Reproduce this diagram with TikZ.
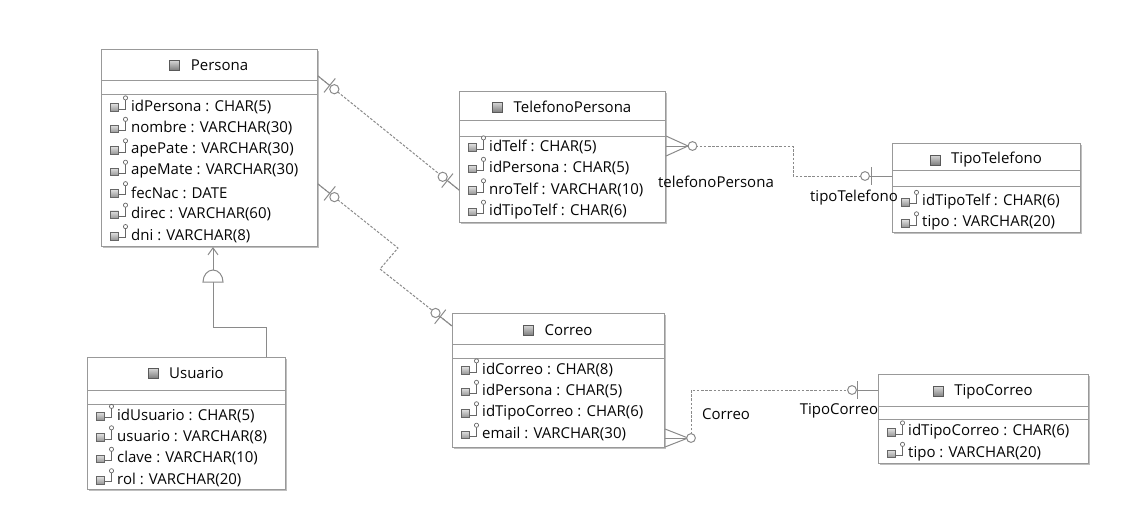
\documentclass[tikz,border=0pt]{standalone}
\usepackage{fontspec}
\setmainfont{Open Sans}
\usetikzlibrary{calc,arrows.meta,shadows}
\definecolor{boxline}{HTML}{999999}
\definecolor{connline}{HTML}{8A8A8A}
\definecolor{textc}{HTML}{050505}
\newcommand\ZeroOneEnd[4]{%
  \draw[solidc] (#1) -- ($(#1)!#3!(#2)$);
  \draw[solidc] ($(#1)!#3!(#2)!9pt!90:(#2)$) -- ($(#1)!#3!(#2)!9pt!-90:(#2)$);
  \draw[solidc, fill=white] ($(#1)!#4!(#2)$) circle (4.6pt);
}
\begin{document}
\begin{tikzpicture}[x=1pt,y=-1pt,
  font=\fontsize{15}{17}\selectfont,
  ebox/.style={draw=boxline, fill=white, line width=1pt, anchor=north west, inner sep=0pt,
    drop shadow={shadow xshift=1.3pt, shadow yshift=-1.3pt, opacity=0.25, fill=black}},
  sepline/.style={draw=boxline, line width=0.9pt},
  ttl/.style={inner sep=0pt, text=textc},
  attr/.style={inner sep=0pt, anchor=west, text=textc},
  lbl/.style={inner sep=0pt, text=textc},
  conn/.style={draw=connline, dash pattern=on 2.6pt off 1.6pt, line width=1pt},
  solidc/.style={draw=connline, line width=1pt},
  ticon/.pic={\draw[draw=black!65, top color=black!15, bottom color=black!50, line width=0.8pt] (-5,-5) rectangle (5,5);},
  aicon/.pic={
    \draw[draw=black!60, top color=black!12, bottom color=black!42, line width=0.6pt] (0,-3.8) rectangle (8.5,3.8);
    \draw[black!60, line width=0.8pt] (8.5,1.5) -- (15,1.5) -- (15,-7.5);
    \draw[black!60, fill=white, line width=0.7pt] (15.5,-9.6) circle (2.1pt);}
]
\useasboundingbox (0,0) rectangle (1131,525);

% ---------- Persona
\node[ebox, minimum width=216pt, minimum height=197pt] (persona) at (101,49) {};
\draw[sepline] (101,80) -- (317,80);
\draw[sepline] (101,94) -- (317,94);
\node[ttl] (personaT) at ($(persona.north)+(10,16)$) {Persona};
\pic at ($(personaT.west)+(-16,0)$) {ticon};
\foreach \t [count=\i from 0] in {idPersona : CHAR(5), nombre : VARCHAR(30), apePate : VARCHAR(30), apeMate : VARCHAR(30), fecNac : DATE, direc : VARCHAR(60), dni : VARCHAR(8)}{
  \pic at (110,107.5+21.45*\i) {aicon};
  \node[attr] (personaA\i) at (131,107+21.45*\i) {\t};
}

% ---------- TelefonoPersona
\node[ebox, minimum width=206pt, minimum height=131pt] (telefono) at (459,91) {};
\draw[sepline] (459,120) -- (665,120);
\draw[sepline] (459,136) -- (665,136);
\node[ttl] (telefonoT) at ($(telefono.north)+(10,16)$) {TelefonoPersona};
\pic at ($(telefonoT.west)+(-16,0)$) {ticon};
\foreach \t [count=\i from 0] in {idTelf : CHAR(5), idPersona : CHAR(5), nroTelf : VARCHAR(10), idTipoTelf : CHAR(6)}{
  \pic at (468,147.5+21.45*\i) {aicon};
  \node[attr] (telefonoA\i) at (489,147+21.45*\i) {\t};
}

% ---------- TipoTelefono
\node[ebox, minimum width=188pt, minimum height=89pt] (tipotel) at (892,143) {};
\draw[sepline] (892,170) -- (1080,170);
\draw[sepline] (892,186) -- (1080,186);
\node[ttl] (tipotelT) at ($(tipotel.north)+(10,17)$) {TipoTelefono};
\pic at ($(tipotelT.west)+(-16,0)$) {ticon};
\foreach \t [count=\i from 0] in {idTipoTelf : CHAR(6), tipo : VARCHAR(20)}{
  \pic at (901,202+21.45*\i) {aicon};
  \node[attr] (tipotelA\i) at (922,201.5+21.45*\i) {\t};
}

% ---------- Usuario
\node[ebox, minimum width=198pt, minimum height=132pt] (usuario) at (87,357) {};
\draw[sepline] (87,390) -- (285,390);
\draw[sepline] (87,404) -- (285,404);
\node[ttl] (usuarioT) at ($(usuario.north)+(10,16)$) {Usuario};
\pic at ($(usuarioT.west)+(-16,0)$) {ticon};
\foreach \t [count=\i from 0] in {idUsuario : CHAR(5), usuario : VARCHAR(8), clave : VARCHAR(10), rol : VARCHAR(20)}{
  \pic at (96,416+21.45*\i) {aicon};
  \node[attr] (usuarioA\i) at (117,415.5+21.45*\i) {\t};
}

% ---------- Correo
\node[ebox, minimum width=212pt, minimum height=134pt] (correo) at (452,313) {};
\draw[sepline] (452,344) -- (664,344);
\draw[sepline] (452,358) -- (664,358);
\node[ttl] (correoT) at ($(correo.north)+(10,17)$) {Correo};
\pic at ($(correoT.west)+(-16,0)$) {ticon};
\foreach \t [count=\i from 0] in {idCorreo : CHAR(8), idPersona : CHAR(5), idTipoCorreo : CHAR(6), email : VARCHAR(30)}{
  \pic at (461,370.5+21.45*\i) {aicon};
  \node[attr] (correoA\i) at (482,370+21.45*\i) {\t};
}

% ---------- TipoCorreo
\node[ebox, minimum width=210pt, minimum height=89pt] (tipocorreo) at (878,374) {};
\draw[sepline] (878,406) -- (1088,406);
\draw[sepline] (878,419) -- (1088,419);
\node[ttl] (tipocorreoT) at ($(tipocorreo.north)+(10,17.5)$) {TipoCorreo};
\pic at ($(tipocorreoT.west)+(-16,0)$) {ticon};
\foreach \t [count=\i from 0] in {idTipoCorreo : CHAR(6), tipo : VARCHAR(20)}{
  \pic at (887,432.5+21.45*\i) {aicon};
  \node[attr] (tipocorreoA\i) at (908,432+21.45*\i) {\t};
}

% ---------- Persona -- TelefonoPersona
\coordinate (c1a) at ($(persona.north east)+(0,27)$);
\coordinate (c1b) at ($(telefono.north west)+(0,99)$);
\draw[conn] (c1a) -- (c1b);
\ZeroOneEnd{c1a}{c1b}{15pt}{21pt}
\ZeroOneEnd{c1b}{c1a}{15pt}{21pt}

% ---------- Persona -- Correo
\coordinate (c2a) at ($(persona.north east)+(0,135)$);
\coordinate (c2k1) at (398,248);
\coordinate (c2k2) at (380,269);
\coordinate (c2b) at ($(correo.north west)+(0,13)$);
\draw[conn] (c2a) -- (c2k1) -- (c2k2) -- (c2b);
\ZeroOneEnd{c2a}{c2k1}{15pt}{21pt}
\ZeroOneEnd{c2b}{c2k2}{15pt}{21pt}

% ---------- TelefonoPersona -- TipoTelefono
\coordinate (c3a) at ($(telefono.north east)+(0,55)$);
\coordinate (c3k) at (793,146);
\coordinate (c3b) at ($(tipotel.north west)+(0,33)$);
\draw[conn] (c3a) -- (c3k) |- (c3b);
\draw[solidc] ($(c3a)+(0,-10)$) -- ($(c3a)+(22,0)$) -- ($(c3a)+(0,10)$);
\draw[solidc] (c3a) -- ($(c3a)+(22,0)$);
\draw[solidc, fill=white] ($(c3a)+(26.5,0)$) circle (4.4pt);
\draw[solidc] (c3b) -- ($(c3b)+(-22,0)$);
\draw[solidc] ($(c3b)+(-21,-9)$) -- ($(c3b)+(-21,9)$);
\draw[solidc, fill=white] ($(c3b)+(-27,0)$) circle (4.4pt);
\node[lbl] (lblTP) at (716,182) {telefonoPersona};
\node[lbl] (lblTT) at (854,198) {tipoTelefono};

% ---------- Correo -- TipoCorreo
\coordinate (c4a) at ($(correo.north east)+(0,125)$);
\coordinate (c4k) at (691,438);
\coordinate (c4b) at ($(tipocorreo.north west)+(0,16)$);
\draw[conn] (c4a) -- (c4k) |- (c4b);
\draw[solidc] ($(c4a)+(0,-9)$) -- ($(c4a)+(23,0)$) -- ($(c4a)+(0,9)$);
\draw[solidc] (c4a) -- ($(c4a)+(23,0)$);
\draw[solidc, fill=white] (c4k) circle (4.4pt);
\draw[solidc] (c4b) -- ($(c4b)+(-22,0)$);
\draw[solidc] ($(c4b)+(-21,-9)$) -- ($(c4b)+(-21,9)$);
\draw[solidc, fill=white] ($(c4b)+(-26,0)$) circle (4.4pt);
\node[lbl] (lblC) at (726,414) {Correo};
\node[lbl] (lblTC) at (839,411) {TipoCorreo};

% ---------- Usuario -> Persona (inheritance)
\coordinate (inhA) at ($(usuario.north west)+(179,0)$);
\coordinate (inhK) at (213,327);
\coordinate (domeB) at (213,282);
\coordinate (domeT) at (213,270);
\coordinate (inhB) at ($(persona.south west)+(112,0)$);
\draw[solidc] (inhA) |- (inhK) -- (domeB);
\draw[solidc, fill=white] ($(domeB)+(-10,0)$) arc[start angle=180, end angle=0, x radius=10pt, y radius=12pt] -- cycle;
\draw[solidc, -{Straight Barb[length=7pt,width=10pt]}] (domeT) -- (inhB);
\end{tikzpicture}
\end{document}
